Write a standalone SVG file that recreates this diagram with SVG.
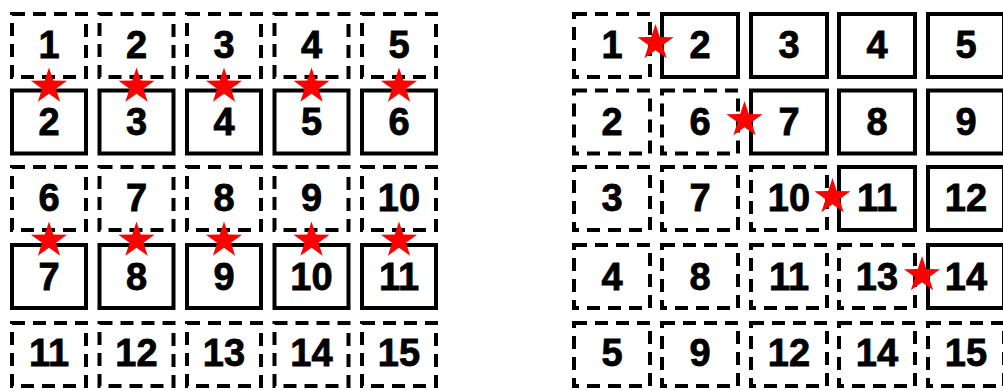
<svg xmlns="http://www.w3.org/2000/svg" xmlns:xlink="http://www.w3.org/1999/xlink" width="1003" height="391" viewBox="0 0 1003 391">
<style>
.s{fill:#fff;stroke:#000;stroke-width:4}
.d{fill:#fff;stroke:#000;stroke-width:4;stroke-dasharray:13 8}
.t{font-family:"Liberation Sans",Arial,sans-serif;font-weight:bold;font-size:38px;fill:#000;stroke:#000;stroke-width:0.8;text-anchor:middle}
.star{fill:#f00}
</style>
<defs>
<path id="star" class="star" d="M0,-19 L4.29,-5.91 L18.07,-5.87 L6.94,2.26 L11.17,15.37 L0,7.3 L-11.17,15.37 L-6.94,2.26 L-18.07,-5.87 L-4.29,-5.91Z"/>
</defs>
<rect width="1003" height="391" fill="#fff"/>
<g id="left-grid">
<g id="L-r1c1"><rect class="d" x="12" y="14" width="74" height="63"/><text class="t" x="49" y="58">1</text></g>
<g id="L-r1c2"><rect class="d" x="99.5" y="14" width="74" height="63"/><text class="t" x="136.5" y="58">2</text></g>
<g id="L-r1c3"><rect class="d" x="187" y="14" width="74" height="63"/><text class="t" x="224" y="58">3</text></g>
<g id="L-r1c4"><rect class="d" x="274.5" y="14" width="74" height="63"/><text class="t" x="311.5" y="58">4</text></g>
<g id="L-r1c5"><rect class="d" x="362" y="14" width="74" height="63"/><text class="t" x="399" y="58">5</text></g>
<g id="L-r2c1"><rect class="s" x="12" y="90.5" width="74" height="63"/><text class="t" x="49" y="135">2</text></g>
<g id="L-r2c2"><rect class="s" x="99.5" y="90.5" width="74" height="63"/><text class="t" x="136.5" y="135">3</text></g>
<g id="L-r2c3"><rect class="s" x="187" y="90.5" width="74" height="63"/><text class="t" x="224" y="135">4</text></g>
<g id="L-r2c4"><rect class="s" x="274.5" y="90.5" width="74" height="63"/><text class="t" x="311.5" y="135">5</text></g>
<g id="L-r2c5"><rect class="s" x="362" y="90.5" width="74" height="63"/><text class="t" x="399" y="135">6</text></g>
<g id="L-r3c1"><rect class="d" x="12" y="167" width="74" height="63"/><text class="t" x="49" y="211">6</text></g>
<g id="L-r3c2"><rect class="d" x="99.5" y="167" width="74" height="63"/><text class="t" x="136.5" y="211">7</text></g>
<g id="L-r3c3"><rect class="d" x="187" y="167" width="74" height="63"/><text class="t" x="224" y="211">8</text></g>
<g id="L-r3c4"><rect class="d" x="274.5" y="167" width="74" height="63"/><text class="t" x="311.5" y="211">9</text></g>
<g id="L-r3c5"><rect class="d" x="362" y="167" width="74" height="63"/><text class="t" x="399" y="211">10</text></g>
<g id="L-r4c1"><rect class="s" x="12" y="245" width="74" height="63"/><text class="t" x="49" y="290">7</text></g>
<g id="L-r4c2"><rect class="s" x="99.5" y="245" width="74" height="63"/><text class="t" x="136.5" y="290">8</text></g>
<g id="L-r4c3"><rect class="s" x="187" y="245" width="74" height="63"/><text class="t" x="224" y="290">9</text></g>
<g id="L-r4c4"><rect class="s" x="274.5" y="245" width="74" height="63"/><text class="t" x="311.5" y="290">10</text></g>
<g id="L-r4c5"><rect class="s" x="362" y="245" width="74" height="63"/><text class="t" x="399" y="290">11</text></g>
<g id="L-r5c1"><rect class="d" x="12" y="323" width="74" height="63"/><text class="t" x="49" y="366">11</text></g>
<g id="L-r5c2"><rect class="d" x="99.5" y="323" width="74" height="63"/><text class="t" x="136.5" y="366">12</text></g>
<g id="L-r5c3"><rect class="d" x="187" y="323" width="74" height="63"/><text class="t" x="224" y="366">13</text></g>
<g id="L-r5c4"><rect class="d" x="274.5" y="323" width="74" height="63"/><text class="t" x="311.5" y="366">14</text></g>
<g id="L-r5c5"><rect class="d" x="362" y="323" width="74" height="63"/><text class="t" x="399" y="366">15</text></g>
</g>
<g id="right-grid">
<g id="R-r1c1"><rect class="d" x="574" y="14" width="76" height="63"/><text class="t" x="612" y="58">1</text></g>
<g id="R-r1c2"><rect class="s" x="662" y="14" width="76" height="63"/><text class="t" x="700" y="58">2</text></g>
<g id="R-r1c3"><rect class="s" x="751" y="14" width="76" height="63"/><text class="t" x="789" y="58">3</text></g>
<g id="R-r1c4"><rect class="s" x="839" y="14" width="76" height="63"/><text class="t" x="877" y="58">4</text></g>
<g id="R-r1c5"><rect class="s" x="928" y="14" width="76" height="63"/><text class="t" x="966" y="58">5</text></g>
<g id="R-r2c1"><rect class="d" x="574" y="90.5" width="76" height="63"/><text class="t" x="612" y="135">2</text></g>
<g id="R-r2c2"><rect class="d" x="662" y="90.5" width="76" height="63"/><text class="t" x="700" y="135">6</text></g>
<g id="R-r2c3"><rect class="s" x="751" y="90.5" width="76" height="63"/><text class="t" x="789" y="135">7</text></g>
<g id="R-r2c4"><rect class="s" x="839" y="90.5" width="76" height="63"/><text class="t" x="877" y="135">8</text></g>
<g id="R-r2c5"><rect class="s" x="928" y="90.5" width="76" height="63"/><text class="t" x="966" y="135">9</text></g>
<g id="R-r3c1"><rect class="d" x="574" y="167" width="76" height="63"/><text class="t" x="612" y="211">3</text></g>
<g id="R-r3c2"><rect class="d" x="662" y="167" width="76" height="63"/><text class="t" x="700" y="211">7</text></g>
<g id="R-r3c3"><rect class="d" x="751" y="167" width="76" height="63"/><text class="t" x="789" y="211">10</text></g>
<g id="R-r3c4"><rect class="s" x="839" y="167" width="76" height="63"/><text class="t" x="877" y="211">11</text></g>
<g id="R-r3c5"><rect class="s" x="928" y="167" width="76" height="63"/><text class="t" x="966" y="211">12</text></g>
<g id="R-r4c1"><rect class="d" x="574" y="245" width="76" height="63"/><text class="t" x="612" y="290">4</text></g>
<g id="R-r4c2"><rect class="d" x="662" y="245" width="76" height="63"/><text class="t" x="700" y="290">8</text></g>
<g id="R-r4c3"><rect class="d" x="751" y="245" width="76" height="63"/><text class="t" x="789" y="290">11</text></g>
<g id="R-r4c4"><rect class="d" x="839" y="245" width="76" height="63"/><text class="t" x="877" y="290">13</text></g>
<g id="R-r4c5"><rect class="s" x="928" y="245" width="76" height="63"/><text class="t" x="966" y="290">14</text></g>
<g id="R-r5c1"><rect class="d" x="574" y="323" width="76" height="63"/><text class="t" x="612" y="366">5</text></g>
<g id="R-r5c2"><rect class="d" x="662" y="323" width="76" height="63"/><text class="t" x="700" y="366">9</text></g>
<g id="R-r5c3"><rect class="d" x="751" y="323" width="76" height="63"/><text class="t" x="789" y="366">12</text></g>
<g id="R-r5c4"><rect class="d" x="839" y="323" width="76" height="63"/><text class="t" x="877" y="366">14</text></g>
<g id="R-r5c5"><rect class="d" x="928" y="323" width="76" height="63"/><text class="t" x="966" y="366">15</text></g>
</g>
<g id="stars">
<use xlink:href="#star" x="49" y="86.5"/>
<use xlink:href="#star" x="136.5" y="86.5"/>
<use xlink:href="#star" x="224" y="86.5"/>
<use xlink:href="#star" x="311.5" y="86.5"/>
<use xlink:href="#star" x="399" y="86.5"/>
<use xlink:href="#star" x="49" y="240.5"/>
<use xlink:href="#star" x="136.5" y="240.5"/>
<use xlink:href="#star" x="224" y="240.5"/>
<use xlink:href="#star" x="311.5" y="240.5"/>
<use xlink:href="#star" x="399" y="240.5"/>
<use xlink:href="#star" x="655.5" y="43"/>
<use xlink:href="#star" x="744.5" y="120"/>
<use xlink:href="#star" x="832.5" y="197"/>
<use xlink:href="#star" x="922" y="275"/>
</g>
</svg>
